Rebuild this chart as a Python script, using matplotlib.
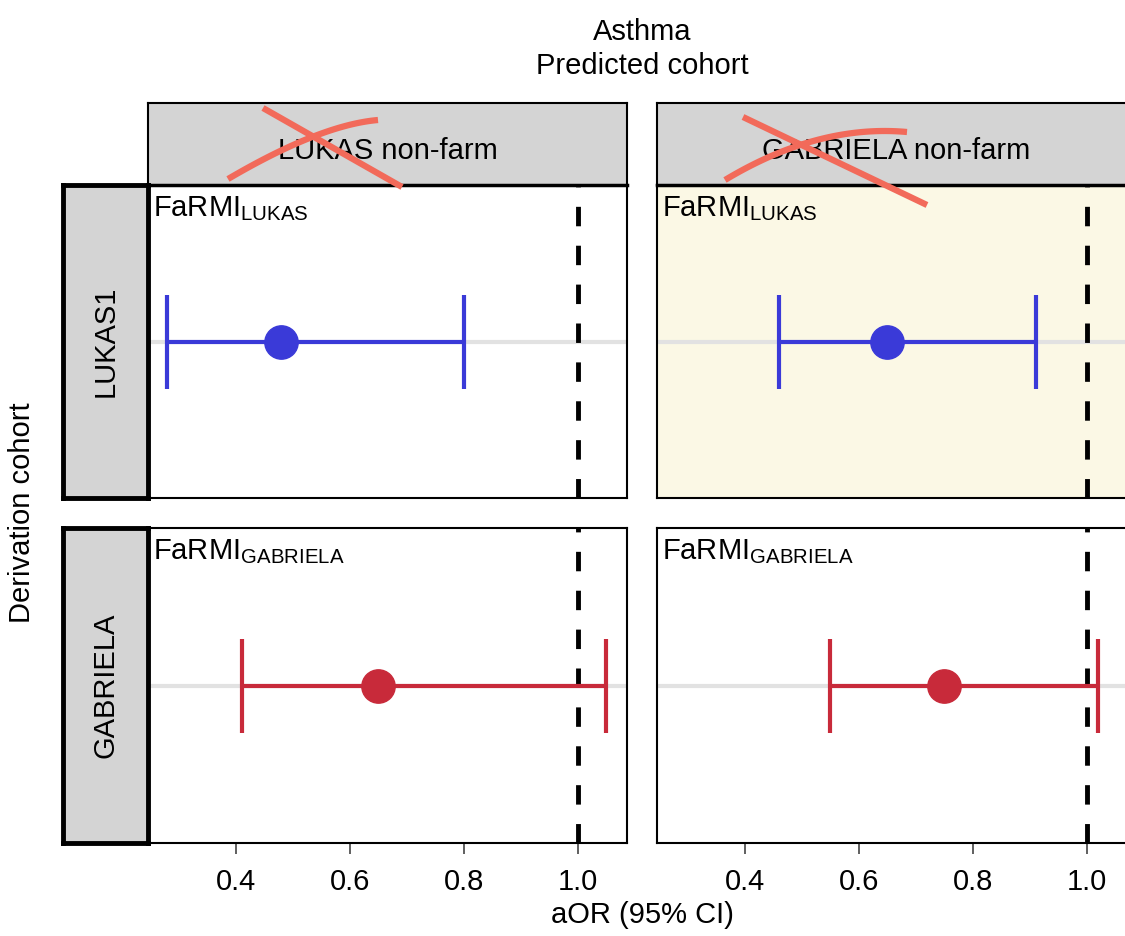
import numpy as np
import matplotlib
matplotlib.use("Agg")
import matplotlib.pyplot as plt

plt.rcParams["font.family"] = ["Liberation Sans", "DejaVu Sans"]
plt.rcParams["mathtext.fontset"] = "custom"
plt.rcParams["mathtext.rm"] = "Liberation Sans"
plt.rcParams["mathtext.it"] = "Liberation Sans"

# data
col_labels = ["LUKAS non-farm", "GABRIELA non-farm"]
row_labels = ["LUKAS1", "GABRIELA"]
index_labels = ["FaRMI$_{\\mathrm{LUKAS}}$", "FaRMI$_{\\mathrm{GABRIELA}}$"]
est = [[0.48, 0.65], [0.65, 0.75]]
lo = [[0.28, 0.46], [0.41, 0.55]]
hi = [[0.80, 0.91], [1.05, 1.02]]
row_colors = ["#3a3ad8", "#c82a3a"]
x_ticks = [0.4, 0.6, 0.8, 1.0]
x_ticklabels = ["0.4", "0.6", "0.8", "1.0"]

W, H = 1125, 936
fs = 21


def rect(x0, y0, x1, y1):
    return [x0 / W, 1 - y1 / H, (x1 - x0) / W, (y1 - y0) / H]


fig = plt.figure(figsize=(W / 100, H / 100), dpi=100)

col_x = [(148, 627), (657, 1136)]
row_y = [(185, 498), (528, 843)]

for i in range(2):
    for j in range(2):
        ax = fig.add_axes(rect(col_x[j][0], row_y[i][0], col_x[j][1], row_y[i][1]))
        if i == 0 and j == 1:
            ax.set_facecolor("#fbf8e5")
        ax.axhline(0.5, color="#e2e2e2", lw=3, zorder=1)
        ax.axvline(1.0, color="black", lw=3.5, linestyle=(0, (4.0, 4.0)), zorder=2)
        c = row_colors[i]
        ax.errorbar([est[i][j]], [0.5],
                    xerr=[[est[i][j] - lo[i][j]], [hi[i][j] - est[i][j]]],
                    fmt="o", color=c, ecolor=c, elinewidth=3, capsize=33.5,
                    capthick=3, markersize=24, markerfacecolor=c,
                    markeredgecolor=c, zorder=3)
        ax.text(0.01, 0.97, index_labels[i], transform=ax.transAxes,
                fontsize=fs, va="top", ha="left")
        ax.set_xlim(0.246, 1.086)
        ax.set_ylim(0, 1)
        ax.set_yticks([])
        for s in ax.spines.values():
            s.set_linewidth(1.5)
        if i == 1:
            ax.set_xticks(x_ticks)
            ax.set_xticklabels(x_ticklabels, fontsize=fs)
            ax.tick_params(axis="x", direction="out", length=8, width=1.2,
                           color="#444444", pad=10)
        else:
            ax.set_xticks([])

# top strips
for j in range(2):
    sax = fig.add_axes(rect(col_x[j][0], 103, col_x[j][1], 185))
    sax.set_facecolor("#d4d4d4")
    sax.set_xticks([])
    sax.set_yticks([])
    for s in sax.spines.values():
        s.set_linewidth(1.5)
    sax.spines["bottom"].set_linewidth(2.5)
    sax.text(0.5, 0.42, col_labels[j], transform=sax.transAxes,
             fontsize=fs, ha="center", va="center")

# side strips
for i in range(2):
    sax = fig.add_axes(rect(63, row_y[i][0], 148, row_y[i][1]))
    sax.set_facecolor("#d4d4d4")
    sax.set_xticks([])
    sax.set_yticks([])
    for s in sax.spines.values():
        s.set_linewidth(3.5)
    sax.text(0.5, 0.5, row_labels[i], transform=sax.transAxes, rotation=90,
             fontsize=fs, ha="center", va="center")

fig.text(642 / W, 1 - 32 / H, "Asthma", fontsize=fs, ha="center", va="center")
fig.text(642 / W, 1 - 66 / H, "Predicted cohort", fontsize=fs, ha="center", va="center")
fig.text(642 / W, 1 - 915 / H, "aOR (95% CI)", fontsize=fs, ha="center", va="center")
fig.text(22 / W, 1 - 513 / H, "Derivation cohort", fontsize=fs, rotation=90,
         ha="center", va="center")

# red crosses drawn over the column strips
ov = fig.add_axes([0, 0, 1, 1], zorder=10)
ov.set_xlim(0, W)
ov.set_ylim(H, 0)
ov.axis("off")
ov.patch.set_alpha(0)

straight = [((263, 108), (402, 187)), ((743, 117), (927, 205))]
curved = [((228, 179), (320, 125), (378, 120)), ((725, 180), (818, 124), (907, 132))]
red = "#f26a5a"
for p0, p1 in straight:
    ov.plot([p0[0], p1[0]], [p0[1], p1[1]], color=red, lw=4.5, solid_capstyle="butt")
t = np.linspace(0, 1, 50)
for p0, cp, p2 in curved:
    bx = (1 - t) ** 2 * p0[0] + 2 * (1 - t) * t * cp[0] + t ** 2 * p2[0]
    by = (1 - t) ** 2 * p0[1] + 2 * (1 - t) * t * cp[1] + t ** 2 * p2[1]
    ov.plot(bx, by, color=red, lw=4.5, solid_capstyle="butt")

fig.savefig("out.png", dpi=100)
